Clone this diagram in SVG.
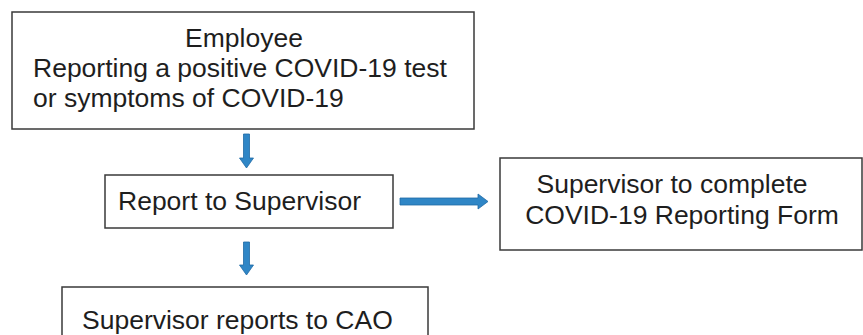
<svg xmlns="http://www.w3.org/2000/svg" width="863" height="335" viewBox="0 0 863 335">
<style>
.box{fill:#fff;stroke:#3a3a3a;stroke-width:1.5}
.t{font-family:"Liberation Sans",Arial,sans-serif;font-size:26.5px;fill:#1e1e1e}
.arr{fill:#2f86c6;stroke:#1f6aa5;stroke-width:0.8}
</style>
<rect width="863" height="335" fill="#fff"/>
<g id="employee">
<rect class="box" x="12" y="12" width="462" height="117"/>
<text class="t" x="244" y="47" text-anchor="middle">Employee</text>
<text class="t" x="33" y="77">Reporting a positive COVID-19 test</text>
<text class="t" x="33" y="107">or symptoms of COVID-19</text>
</g>
<g id="report">
<rect class="box" x="105" y="175" width="288" height="53"/>
<text class="t" x="118" y="210">Report to Supervisor</text>
</g>
<g id="form">
<rect class="box" x="500" y="158" width="362" height="92"/>
<text class="t" x="672" y="193" text-anchor="middle">Supervisor to complete</text>
<text class="t" x="682" y="224" text-anchor="middle">COVID-19 Reporting Form</text>
</g>
<g id="cao">
<rect class="box" x="62" y="287" width="366" height="60"/>
<text class="t" x="82" y="329">Supervisor reports to CAO</text>
</g>
<g id="connectors">
<path class="arr" d="M243.5,134 H249.5 V158 H253.5 L246.5,168 L239.5,158 H243.5 Z"/>
<path class="arr" d="M243.5,242 H249.5 V265 H253.5 L246.5,275 L239.5,265 H243.5 Z"/>
<path class="arr" d="M400,198 H478 V194 L488,201.5 L478,209 V205 H400 Z"/>
</g>
</svg>
